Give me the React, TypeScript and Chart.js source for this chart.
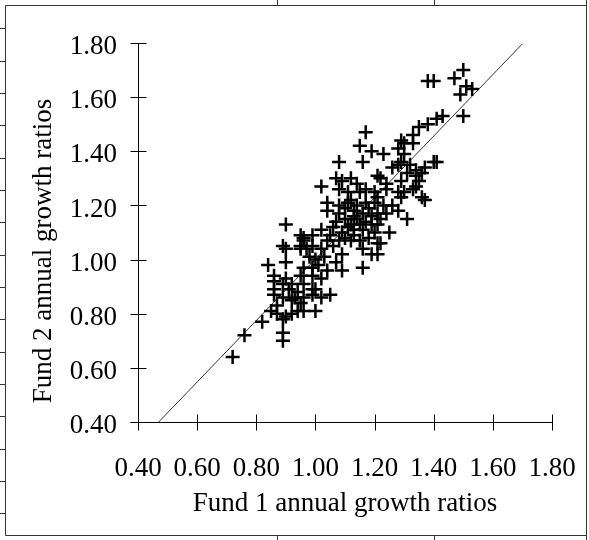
import React, { useEffect, useRef } from 'react';
import { Chart, registerables } from 'chart.js';

Chart.register(...registerables);

// Fund 1 (x) and Fund 2 (y) annual growth ratios
const fund1 = [
  1.38, 1.40, 1.47, 1.50, 1.51, 1.49, 1.53, 1.50, 1.43, 1.41, 1.38, 1.35, 1.33, 1.30, 1.29,
  1.17, 1.15, 1.19, 1.23, 1.16, 1.30, 1.33, 1.28, 1.08, 1.29, 1.26, 1.40, 1.41, 1.32, 1.28,
  1.34, 1.37, 1.31, 1.36, 1.34, 1.22, 1.35, 1.02, 1.07, 1.09, 1.12, 1.14, 1.21, 1.24, 1.29,
  1.34, 1.36, 1.37, 1.08, 1.11, 1.15, 1.17, 1.20, 1.24, 1.28, 1.30, 1.33, 1.04, 1.04, 1.08,
  1.12, 1.14, 1.17, 1.20, 1.23, 1.26, 1.28, 1.29, 1.21, 0.90, 1.31, 1.08, 1.10, 1.13, 1.16,
  1.19, 1.21, 1.24, 1.12, 1.15, 1.19, 1.22, 1.21, 1.02, 1.06, 1.09, 1.13, 1.16, 1.20, 1.25,
  0.96, 0.99, 0.95, 1.04, 1.08, 1.12, 1.15, 1.21, 0.89, 0.95, 1.06, 1.22, 1.21, 0.72, 0.76,
  0.82, 0.85, 0.87, 0.89, 0.89, 0.89, 0.90, 0.92, 0.94, 0.96, 1.00, 0.87, 0.92, 0.95, 0.86,
  0.89, 0.93, 0.96, 0.99, 1.02, 0.86, 0.91, 0.94, 1.00, 1.05, 0.86, 0.89, 0.92, 0.96, 0.99,
  0.86, 0.90, 0.95, 0.99, 1.02, 0.84, 0.90, 0.90, 0.96, 0.99, 1.01, 1.04, 1.09, 1.16, 1.00,
  1.03, 1.07, 1.09, 1.19, 0.95, 0.99, 0.96, 1.02, 1.16, 0.98, 0.97,
  1.10, 1.13, 1.18, 1.11, 1.14, 1.17, 1.10, 1.13, 1.18, 1.07, 1.05, 1.11,
];
const fund2 = [
  1.66, 1.66, 1.67, 1.70, 1.64, 1.61, 1.63, 1.53, 1.53, 1.52, 1.50, 1.49, 1.46, 1.43, 1.44,
  1.47, 1.42, 1.40, 1.39, 1.36, 1.39, 1.43, 1.41, 1.36, 1.36, 1.34, 1.36, 1.36, 1.35, 1.35,
  1.33, 1.34, 1.32, 1.32, 1.31, 1.30, 1.29, 1.27, 1.30, 1.29, 1.30, 1.28, 1.31, 1.28, 1.29,
  1.27, 1.23, 1.22, 1.26, 1.25, 1.25, 1.26, 1.25, 1.26, 1.25, 1.25, 1.26, 1.21, 1.18, 1.20,
  1.22, 1.20, 1.21, 1.21, 1.20, 1.20, 1.18, 1.23, 1.23, 1.13, 1.15, 1.17, 1.15, 1.16, 1.17,
  1.16, 1.17, 1.17, 1.13, 1.13, 1.13, 1.15, 1.13, 1.11, 1.12, 1.10, 1.11, 1.11, 1.10, 1.10,
  1.08, 1.09, 1.09, 1.07, 1.07, 1.07, 1.07, 1.06, 1.05, 1.05, 1.05, 1.06, 1.02, 0.64, 0.72,
  0.77, 0.81, 0.80, 0.70, 0.73, 0.78, 0.79, 0.80, 0.81, 0.81, 0.81, 0.83, 0.85, 0.84, 0.87,
  0.86, 0.86, 0.86, 0.87, 0.86, 0.89, 0.89, 0.88, 0.89, 0.87, 0.92, 0.91, 0.91, 0.91, 0.89,
  0.94, 0.93, 0.94, 0.94, 0.93, 0.98, 0.99, 1.04, 0.97, 0.97, 0.98, 0.96, 0.96, 0.97, 1.00,
  1.01, 0.99, 1.02, 1.02, 1.04, 1.05, 1.07, 1.04, 1.04, 1.01, 1.04,
  1.19, 1.18, 1.19, 1.12, 1.15, 1.14, 1.08, 1.09, 1.08, 1.14, 1.09, 1.21,
];

// Fitted line end points
const fitX = [0.47, 1.7];
const fitY = [0.4, 1.797];

// Tick labels
const xTickLabels = ['0.40', '0.60', '0.80', '1.00', '1.20', '1.40', '1.60', '1.80'];
const yTickLabels = ['0.40', '0.60', '0.80', '1.00', '1.20', '1.40', '1.60', '1.80'];

const xTitle = 'Fund 1 annual growth ratios';
const yTitle = 'Fund 2 annual growth ratios';

const FONT_FAMILY = '"Liberation Serif", "Times New Roman", Times, serif';
const FONT_SIZE = 27;

const framePlugin = {
  id: 'frame',
  beforeDraw(chart: any) {
    const ctx = chart.ctx;
    ctx.save();
    ctx.strokeStyle = '#333';
    ctx.lineWidth = 1;
    ctx.beginPath();
    ctx.moveTo(5.5, 5.5);
    ctx.lineTo(586.5, 5.5);
    ctx.moveTo(5.5, 5.5);
    ctx.lineTo(5.5, 535.5);
    ctx.lineTo(586.5, 535.5);
    ctx.moveTo(586.5, 0);
    ctx.lineTo(586.5, 540);
    for (let k = 0; k < 16; k++) {
      const y = Math.round(28.3 + k * 32.33) + 0.5;
      ctx.moveTo(0, y);
      ctx.lineTo(5.5, y);
    }
    [277.5, 434.5].forEach((x) => {
      ctx.moveTo(x, 0);
      ctx.lineTo(x, 5.5);
      ctx.moveTo(x, 535.5);
      ctx.lineTo(x, 540);
    });
    ctx.stroke();
    ctx.restore();
  },
};

const crossAxesPlugin = {
  id: 'crossAxes',
  beforeDatasetsDraw(chart: any) {
    const { ctx, scales } = chart;
    const xs = scales.x;
    const ys = scales.y;
    const L = 8;
    ctx.save();
    ctx.strokeStyle = '#000';
    ctx.lineWidth = 1;
    const ax = Math.round(xs.getPixelForValue(xs.min)) + 0.5;
    const ay = Math.round(ys.getPixelForValue(ys.min)) + 0.5;
    const top = Math.round(ys.getPixelForValue(ys.max)) + 0.5;
    const right = Math.round(xs.getPixelForValue(xs.max)) + 0.5;
    ctx.beginPath();
    ctx.moveTo(ax, top);
    ctx.lineTo(ax, ay);
    ctx.moveTo(ax - L, ay);
    ctx.lineTo(right, ay);
    xs.ticks.forEach((t: any) => {
      const p = Math.round(xs.getPixelForValue(t.value)) + 0.5;
      ctx.moveTo(p, ay - L);
      ctx.lineTo(p, ay + L);
    });
    ys.ticks.forEach((t: any) => {
      const p = Math.round(ys.getPixelForValue(t.value)) + 0.5;
      ctx.moveTo(ax - L, p);
      ctx.lineTo(ax + L, p);
    });
    ctx.stroke();
    ctx.restore();
  },
  afterDraw(chart: any) {
    const { ctx, chartArea } = chart;
    ctx.save();
    ctx.fillStyle = '#000';
    ctx.font = `${FONT_SIZE}px ${FONT_FAMILY}`;
    ctx.textAlign = 'center';
    ctx.textBaseline = 'alphabetic';
    ctx.fillText(xTitle, (chartArea.left + chartArea.right) / 2, chartArea.bottom + 88.5);
    ctx.translate(chartArea.left - 87.5, (chartArea.top + chartArea.bottom) / 2 + 18.5);
    ctx.rotate(-Math.PI / 2);
    ctx.fillText(yTitle, 0, 0);
    ctx.restore();
  },
};

export default function App() {
  const canvasRef = useRef<HTMLCanvasElement | null>(null);

  useEffect(() => {
    if (!canvasRef.current) return;
    const points = fund1.map((x, i) => ({ x, y: fund2[i] }));
    const fit = fitX.map((x, i) => ({ x, y: fitY[i] }));
    const chart = new Chart(canvasRef.current, {
      type: 'scatter',
      data: {
        datasets: [
          {
            type: 'line',
            data: fit,
            borderColor: '#000',
            borderWidth: 0.8,
            pointRadius: 0,
            fill: false,
          } as any,
          {
            data: points,
            pointStyle: 'cross',
            pointRadius: 7,
            pointBorderWidth: 2.5,
            borderColor: '#000',
            backgroundColor: '#000',
            pointHoverRadius: 7,
          } as any,
        ],
      },
      options: {
        animation: false,
        responsive: false,
        events: [],
        layout: { padding: { left: 0, top: 43, right: 37, bottom: 0 } },
        plugins: {
          legend: { display: false },
          tooltip: { enabled: false },
          title: { display: false },
        },
        scales: {
          x: {
            type: 'linear',
            position: 'bottom',
            min: 0.4,
            max: 1.8,
            grid: { display: false, drawTicks: false },
            border: { display: false },
            afterFit: (s: any) => {
              s.height = 118;
              s.paddingLeft = 0;
              s.paddingRight = 0;
            },
            ticks: {
              stepSize: 0.2,
              autoSkip: false,
              maxRotation: 0,
              minRotation: 0,
              padding: 31,
              color: '#000',
              font: { family: FONT_FAMILY, size: FONT_SIZE },
              callback: (_v: any, i: number) => xTickLabels[i],
            },
          },
          y: {
            type: 'linear',
            position: 'left',
            min: 0.4,
            max: 1.8,
            grid: { display: false, drawTicks: false },
            border: { display: false },
            afterFit: (s: any) => {
              s.width = 138;
              s.paddingTop = 0;
              s.paddingBottom = 0;
            },
            ticks: {
              stepSize: 0.2,
              autoSkip: false,
              padding: 21,
              color: '#000',
              font: { family: FONT_FAMILY, size: FONT_SIZE, lineHeight: '8px' },
              callback: (_v: any, i: number) => ['', yTickLabels[i]],
            },
          },
        },
      } as any,
      plugins: [framePlugin, crossAxesPlugin],
    });
    return () => chart.destroy();
  }, []);

  return (
    <div style={{ position: 'absolute', left: 0, top: 0, width: 589, height: 540, background: '#fff' }}>
      <canvas ref={canvasRef} width={589} height={540} style={{ display: 'block' }} />
    </div>
  );
}
